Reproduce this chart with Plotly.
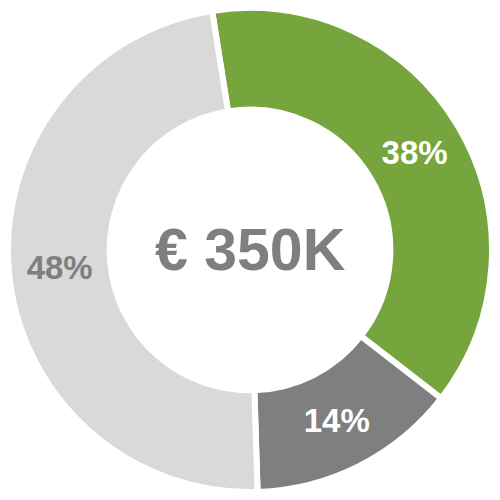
import plotly.graph_objects as go

labels = ["Green", "Dark gray", "Light gray"]
values = [38, 14, 48]
colors = ["#76A53D", "#7F7F7F", "#D9D9D9"]
text_colors = ["#FFFFFF", "#FFFFFF", "#7F7F7F"]
center_text = "€ 350K"

fig = go.Figure(go.Pie(
    labels=labels,
    values=values,
    hole=0.58,
    sort=False,
    direction="clockwise",
    rotation=-9,
    domain=dict(x=[0, 1], y=[0, 1]),
    marker=dict(colors=colors, line=dict(color="#FFFFFF", width=6)),
    textinfo="percent",
    texttemplate="%{percent:.0%}",
    textposition="inside",
    insidetextorientation="horizontal",
    textfont=dict(family="Liberation Sans, Arial", size=33, color=text_colors, weight="bold"),
    showlegend=False,
))
fig.update_layout(
    width=484, height=484,
    margin=dict(l=0, r=0, t=0, b=0),
    paper_bgcolor="white",
    annotations=[dict(text="<b>" + center_text + "</b>", x=0.5, y=0.5, xref="paper", yref="paper",
                      showarrow=False, font=dict(family="Liberation Sans, Arial", size=59, color="#7F7F7F"))],
)
fig.write_html("out.html")
